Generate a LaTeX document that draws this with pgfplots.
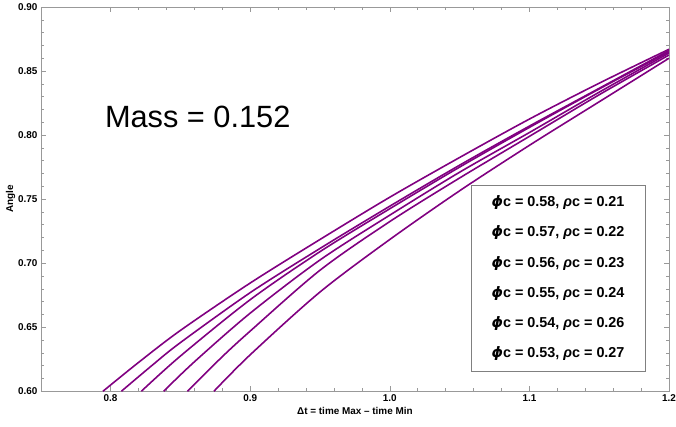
\documentclass[border=0pt]{standalone}
\usepackage{pgfplots}
\pgfplotsset{compat=1.18}
\usepackage{fontspec}
\setmainfont{Liberation Sans}
\newfontfamily\dejavu{DejaVu Sans}
\definecolor{mmapurple}{rgb}{0.5,0,0.5}
\definecolor{framegray}{gray}{0.6}
\newcommand{\phic}{{\dejavu\bfseries\itshape ϕ}c}
\newcommand{\rhoc}{\textit{ρ}c}

\begin{document}
\begin{tikzpicture}
\begin{axis}[
  at={(0,0)}, anchor=south west,
  scale only axis, width=631bp, height=386bp,
  xmin=0.75, xmax=1.2, ymin=0.6, ymax=0.9,
  xtick={0.8,0.9,1.0,1.1,1.2},
  ytick={0.6,0.65,0.7,0.75,0.8,0.85,0.9},
  minor x tick num=4, minor y tick num=4,
  tick align=inside, major tick length=5bp, minor tick length=3bp,
  axis line style={framegray},
  tick style={framegray, line width=0.5bp},
  /pgf/number format/assume math mode=true,
  xticklabel style={/pgf/number format/.cd, fixed, fixed zerofill, precision=1},
  yticklabel style={/pgf/number format/.cd, fixed, fixed zerofill, precision=2},
  tick label style={font=\fontsize{10}{12}\selectfont\bfseries, black},
  xlabel={Δt = time Max – time Min},
  ylabel={Angle},
  label style={font=\fontsize{10}{12}\selectfont\bfseries},
  xlabel style={yshift=1bp},
  ylabel style={yshift=-4bp},
]
\addplot[mmapurple, line width=1.6bp, smooth] coordinates {
  (0.7945,0.600) (0.82,0.6225) (0.85,0.6475) (0.90,0.6845) (0.95,0.7185)
  (1.00,0.7515) (1.05,0.7825) (1.10,0.8125) (1.15,0.8405) (1.20,0.867)
};
\addplot[mmapurple, line width=1.6bp, smooth] coordinates {
  (0.8077,0.600) (0.83,0.6205) (0.85,0.638) (0.90,0.677) (0.95,0.7115)
  (1.00,0.7445) (1.05,0.7765) (1.10,0.807) (1.15,0.8365) (1.20,0.866)
};
\addplot[mmapurple, line width=1.6bp, smooth] coordinates {
  (0.822,0.600) (0.85,0.6275) (0.90,0.6715) (0.95,0.709)
  (1.00,0.7425) (1.05,0.775) (1.10,0.806) (1.15,0.836) (1.20,0.865)
};
\addplot[mmapurple, line width=1.6bp, smooth] coordinates {
  (0.838,0.600) (0.86,0.623) (0.90,0.661) (0.95,0.7025)
  (1.00,0.7375) (1.05,0.771) (1.10,0.802) (1.15,0.8335) (1.20,0.864)
};
\addplot[mmapurple, line width=1.6bp, smooth] coordinates {
  (0.855,0.600) (0.88,0.627) (0.90,0.647) (0.95,0.6945)
  (1.00,0.7325) (1.05,0.7665) (1.10,0.799) (1.15,0.8315) (1.20,0.8625)
};
\addplot[mmapurple, line width=1.6bp, smooth] coordinates {
  (0.874,0.600) (0.90,0.6285) (0.95,0.6775)
  (1.00,0.7185) (1.05,0.7565) (1.10,0.792) (1.15,0.826) (1.20,0.860)
};
\node[font=\fontsize{31}{36}\selectfont] at (axis cs:0.8624,0.8145) {Mass = 0.152};
\node[draw=gray, fill=white, minimum width=175bp, minimum height=187bp,
      align=center, font=\fontsize{14.5}{30.5}\selectfont\bfseries]
  at (axis cs:1.1205,0.6882) {%
  \phic{} = 0.58, \rhoc{} = 0.21\\
  \phic{} = 0.57, \rhoc{} = 0.22\\
  \phic{} = 0.56, \rhoc{} = 0.23\\
  \phic{} = 0.55, \rhoc{} = 0.24\\
  \phic{} = 0.54, \rhoc{} = 0.26\\
  \phic{} = 0.53, \rhoc{} = 0.27};
\end{axis}
\pgfresetboundingbox
\path[use as bounding box] (-41bp,-35bp) rectangle (638bp,393bp);
\end{tikzpicture}
\end{document}
